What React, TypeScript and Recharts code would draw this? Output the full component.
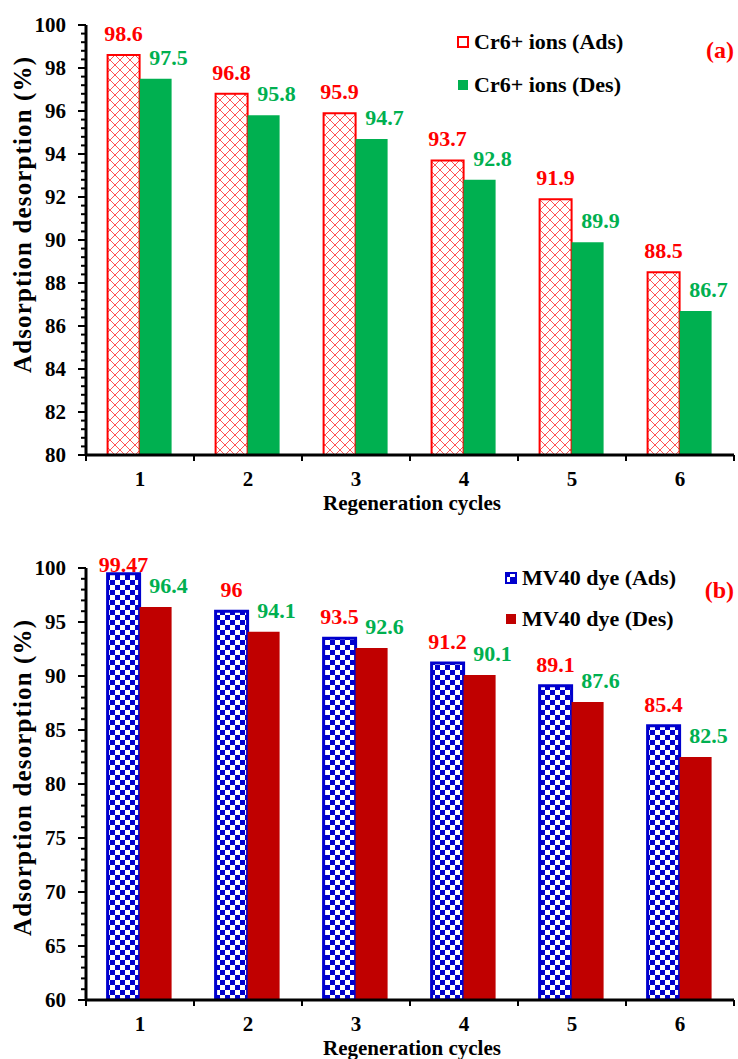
import React from "react";
import { BarChart, Bar, XAxis, YAxis, Legend, LabelList } from "recharts";

const cycles = ["1", "2", "3", "4", "5", "6"];

const cr6Ads = [98.6, 96.8, 95.9, 93.7, 91.9, 88.5];
const cr6Des = [97.5, 95.8, 94.7, 92.8, 89.9, 86.7];
const mv40Ads = [99.47, 96, 93.5, 91.2, 89.1, 85.4];
const mv40Des = [96.4, 94.1, 92.6, 90.1, 87.6, 82.5];

const yTicksA = [80, 82, 84, 86, 88, 90, 92, 94, 96, 98, 100];
const yTicksB = [60, 65, 70, 75, 80, 85, 90, 95, 100];

const FONT = "'Times New Roman', 'Liberation Serif', serif";
const W = 738;
const Y_AXIS_W = 86;
const RIGHT = 4;
const BAND = (W - Y_AXIS_W - RIGHT) / cycles.length;

// five minor steps between each pair of labelled ticks
const withMinor = (majors: number[], parts: number) => {
  const out: number[] = [];
  for (let i = 0; i < majors.length - 1; i++) {
    const step = (majors[i + 1] - majors[i]) / parts;
    for (let k = 0; k < parts; k++) out.push(Math.round((majors[i] + k * step) * 100) / 100);
  }
  out.push(majors[majors.length - 1]);
  return out;
};

const build = (ads: number[], des: number[]) =>
  cycles.map((c, i) => ({ cycle: c, ads: ads[i], des: des[i] }));

const yTick = (majors: number[]) => (p: any) => {
  const v = p.payload.value;
  const major = majors.includes(v);
  return (
    <g>
      <line x1={p.x - (major ? 8 : 5)} x2={p.x} y1={p.y} y2={p.y} stroke="#000" strokeWidth={2} />
      {major && (
        <text x={p.x - 20} y={p.y} dy="0.35em" textAnchor="end" fontFamily={FONT} fontSize={21} fontWeight="bold" fill="#000">
          {v}
        </text>
      )}
    </g>
  );
};

const xTick = (p: any) => {
  const half = BAND / 2;
  return (
    <g>
      <line x1={p.x - half} x2={p.x - half} y1={p.y} y2={p.y + 6} stroke="#000" strokeWidth={2} />
      {p.index === cycles.length - 1 && (
        <line x1={p.x + half} x2={p.x + half} y1={p.y} y2={p.y + 6} stroke="#000" strokeWidth={2} />
      )}
      <text x={p.x} y={p.y + 31} textAnchor="middle" fontFamily={FONT} fontSize={21} fontWeight="bold" fill="#000">
        {p.payload.value}
      </text>
    </g>
  );
};

const valueLabel = (color: string, dx: number, minY: number) => (p: any) => {
  const x = Number(p.x) + Number(p.width) / 2 + dx;
  const y = Math.max(Number(p.y) - 14, minY);
  return (
    <text x={x} y={y} textAnchor="middle" fill={color} fontFamily={FONT} fontSize={22} fontWeight="bold">
      {p.value}
    </text>
  );
};

interface PanelProps {
  tag: string;
  ads: number[];
  des: number[];
  adsName: string;
  desName: string;
  adsFill: string;
  adsMarkFill: string;
  adsStroke: string;
  adsStrokeW: number;
  desFill: string;
  majors: number[];
  minorParts: number;
  height: number;
  top: number;
  plotTop: number;
  xAxisH: number;
  yTitleShift: number;
  legendTop: number;
  legendLeft: number;
  legendPitch: number;
  tagTop: number;
}

const Panel: React.FC<PanelProps> = (props) => {
  const data = build(props.ads, props.des);
  const minors = withMinor(props.majors, props.minorParts);
  const domain = [props.majors[0], props.majors[props.majors.length - 1]];

  const legendContent = () => (
    <div style={{ fontFamily: FONT, fontSize: 22, fontWeight: "bold", color: "#000" }}>
      {[
        { name: props.adsName, fill: props.adsMarkFill, stroke: props.adsStroke },
        { name: props.desName, fill: props.desFill, stroke: "none" },
      ].map((it) => (
        <div key={it.name} style={{ display: "flex", alignItems: "center", height: props.legendPitch, whiteSpace: "nowrap" }}>
          <svg width={12} height={12} style={{ marginRight: 5 }}>
            <rect x={1} y={1} width={10} height={10} fill={it.fill} stroke={it.stroke} strokeWidth={2} />
          </svg>
          <span>{it.name}</span>
        </div>
      ))}
    </div>
  );

  return (
    <div style={{ position: "absolute", left: 0, top: props.top, width: W, height: props.height }}>
      <BarChart
        width={W}
        height={props.height}
        data={data}
        margin={{ top: props.plotTop, right: RIGHT, left: 0, bottom: 0 }}
        barCategoryGap="20%"
        barGap={0}
      >
        <defs>
          <pattern id="crossRed" width={10} height={10} patternUnits="userSpaceOnUse">
            <rect width={10} height={10} fill="#fff" />
            <path d="M0,0 L10,10 M10,0 L0,10" stroke="#ff4040" strokeWidth={0.9} />
          </pattern>
          <pattern id="checkBlue" width={10} height={10} patternUnits="userSpaceOnUse">
            <rect width={10} height={10} fill="#fff" />
            <rect x={0} y={0} width={5} height={5} fill="#0000cd" />
            <rect x={5} y={5} width={5} height={5} fill="#0000cd" />
          </pattern>
        </defs>
        <XAxis
          dataKey="cycle"
          height={props.xAxisH}
          tickSize={0}
          tickMargin={0}
          tickLine={false}
          tick={xTick}
          interval={0}
          axisLine={{ stroke: "#000", strokeWidth: 3 }}
          label={{
            content: (l: any) => {
              const vb = l.viewBox || {};
              return (
                <text x={vb.x + vb.width / 2 + 2} y={vb.y + 55} textAnchor="middle" fontFamily={FONT} fontSize={21} fontWeight="bold" fill="#000">
                  Regeneration cycles
                </text>
              );
            },
          }}
        />
        <YAxis
          width={Y_AXIS_W}
          domain={domain}
          ticks={minors}
          interval={0}
          tickSize={0}
          tickMargin={0}
          tickLine={false}
          tick={yTick(props.majors)}
          axisLine={{ stroke: "#000", strokeWidth: 3 }}
          allowDataOverflow
          label={{
            content: (l: any) => {
              const vb = l.viewBox || {};
              const cx = 22;
              const cy = vb.y + vb.height / 2 + props.yTitleShift;
              return (
                <text
                  x={cx}
                  y={cy}
                  transform={`rotate(-90 ${cx} ${cy})`}
                  textAnchor="middle"
                  dominantBaseline="central"
                  fontFamily={FONT}
                  fontSize={25}
                  fontWeight="bold"
                  fill="#000"
                  textLength={316}
                  lengthAdjust="spacing"
                >
                  Adsorption desorption (%)
                </text>
              );
            },
          }}
        />
        <Legend
          layout="horizontal"
          verticalAlign="middle"
          align="center"
          content={legendContent}
          wrapperStyle={{ top: props.legendTop, left: props.legendLeft, width: 280, height: "auto" }}
        />
        <Bar
          dataKey="ads"
          name={props.adsName}
          fill={props.adsFill}
          stroke={props.adsStroke}
          strokeWidth={props.adsStrokeW}
          isAnimationActive={false}
        >
          <LabelList dataKey="ads" content={valueLabel("#ff0000", 0, props.plotTop + 4)} />
        </Bar>
        <Bar dataKey="des" name={props.desName} fill={props.desFill} isAnimationActive={false}>
          <LabelList dataKey="des" content={valueLabel("#00b050", 13, props.plotTop + 4)} />
        </Bar>
      </BarChart>
      <div
        style={{
          position: "absolute",
          right: 4,
          top: props.tagTop,
          fontFamily: FONT,
          fontSize: 24,
          fontWeight: "bold",
          color: "#ff0000",
          lineHeight: "24px",
        }}
      >
        {props.tag}
      </div>
    </div>
  );
};

export default function App() {
  return (
    <div style={{ position: "absolute", left: 0, top: 0, width: W, height: 1059, background: "#fff" }}>
      <Panel
        tag="(a)"
        ads={cr6Ads}
        des={cr6Des}
        adsName="Cr6+ ions (Ads)"
        desName="Cr6+ ions (Des)"
        adsFill="url(#crossRed)"
        adsMarkFill="#fff"
        adsStroke="#ff0000"
        adsStrokeW={2}
        desFill="#00b050"
        majors={yTicksA}
        minorParts={5}
        height={520}
        top={0}
        plotTop={25}
        xAxisH={65}
        yTitleShift={-25}
        legendTop={20}
        legendLeft={457}
        legendPitch={43}
        tagTop={38}
      />
      <Panel
        tag="(b)"
        ads={mv40Ads}
        des={mv40Des}
        adsName="MV40 dye (Ads)"
        desName="MV40 dye (Des)"
        adsFill="url(#checkBlue)"
        adsMarkFill="url(#checkBlue)"
        adsStroke="#0000cd"
        adsStrokeW={3}
        desFill="#c00000"
        majors={yTicksB}
        minorParts={5}
        height={539}
        top={520}
        plotTop={48}
        xAxisH={59}
        yTitleShift={-6}
        legendTop={37}
        legendLeft={505}
        legendPitch={41}
        tagTop={58}
      />
    </div>
  );
}
